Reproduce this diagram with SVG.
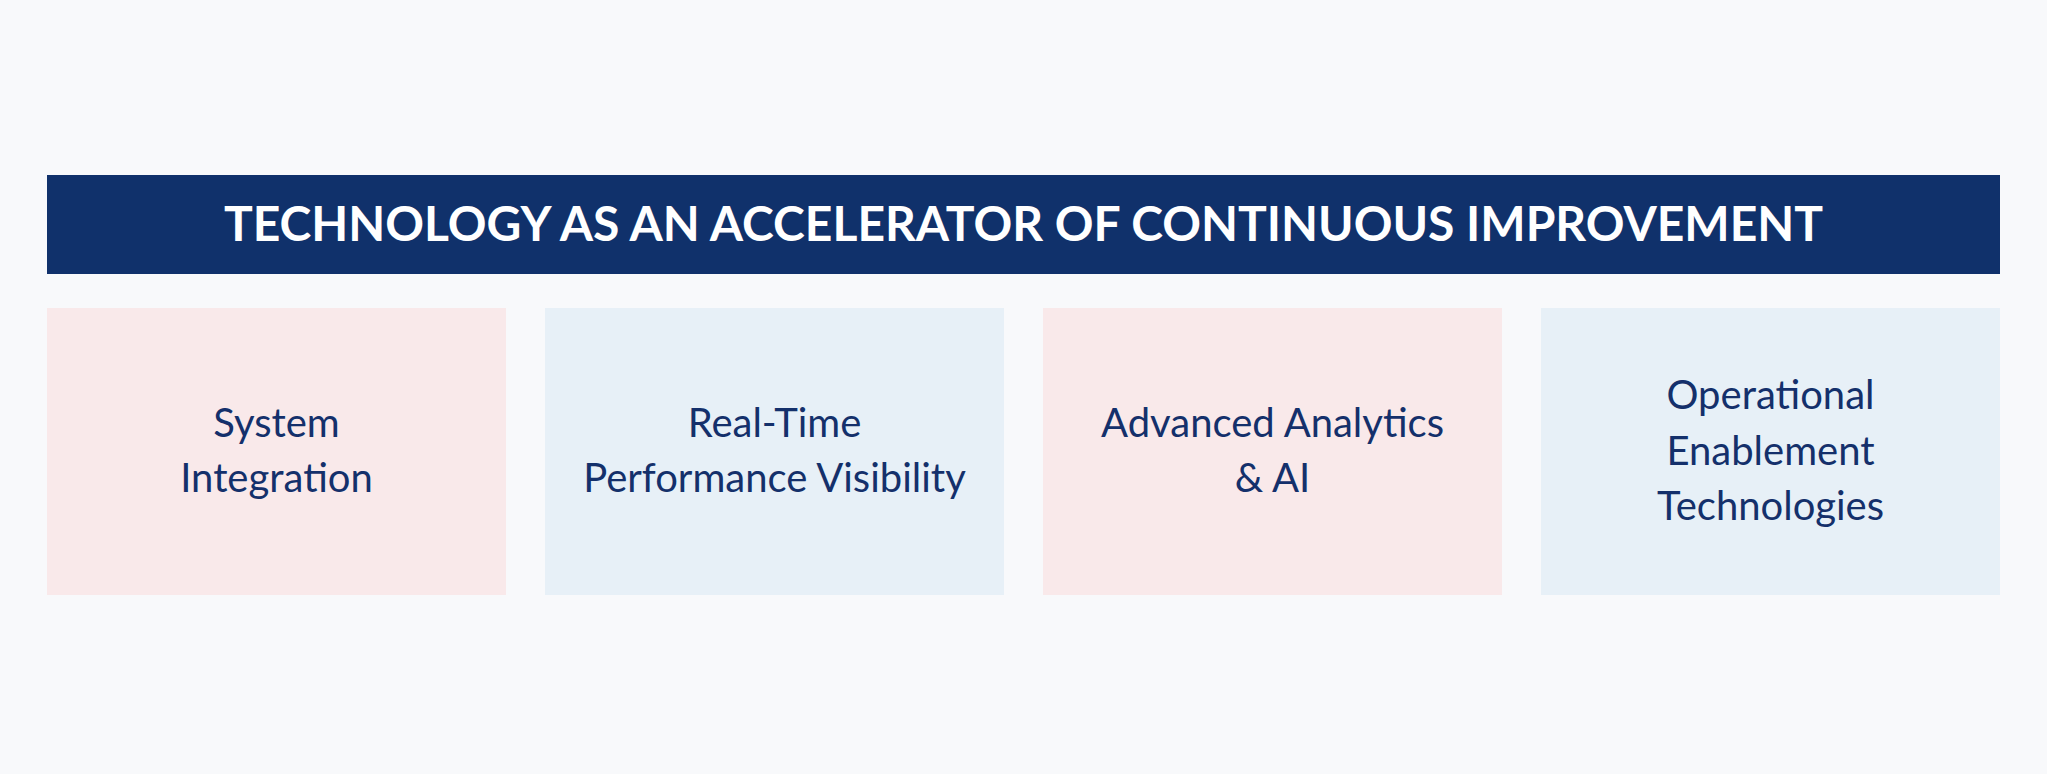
<svg xmlns="http://www.w3.org/2000/svg" width="2047" height="774" viewBox="0 0 2047 774">
<style>
.bg{fill:#f8f9fb}
.banner{fill:#10316b}
.title{font-family:Lato,"Noto Sans","Liberation Sans",sans-serif;font-weight:700;font-size:48px;fill:#ffffff;text-anchor:middle}
.pink{fill:#f9e9ea}
.blue{fill:#e7f0f7}
.lbl{font-family:Lato,"Noto Sans","Liberation Sans",sans-serif;font-size:40px;fill:#14306b;text-anchor:middle}
</style>
<rect class="bg" x="0" y="0" width="2047" height="774"/>
<g id="banner">
<rect class="banner" x="47" y="175" width="1953" height="99"/>
<text class="title" x="1023.5" y="241">TECHNOLOGY AS AN ACCELERATOR OF CONTINUOUS IMPROVEMENT</text>
</g>
<g id="node-system-integration">
<rect class="pink" x="47" y="308" width="459" height="287"/>
<text class="lbl" x="276.5" y="437">System</text>
<text class="lbl" x="276.5" y="492">Integration</text>
</g>
<g id="node-real-time">
<rect class="blue" x="545" y="308" width="459" height="287"/>
<text class="lbl" x="774.5" y="437">Real-Time</text>
<text class="lbl" x="774.5" y="492">Performance Visibility</text>
</g>
<g id="node-analytics">
<rect class="pink" x="1043" y="308" width="459" height="287"/>
<text class="lbl" x="1272.5" y="437">Advanced Analytics</text>
<text class="lbl" x="1272.5" y="492">&amp; AI</text>
</g>
<g id="node-operational">
<rect class="blue" x="1541" y="308" width="459" height="287"/>
<text class="lbl" x="1770.5" y="409">Operational</text>
<text class="lbl" x="1770.5" y="465">Enablement</text>
<text class="lbl" x="1770.5" y="520">Technologies</text>
</g>
<g id="connectors"></g>
</svg>
